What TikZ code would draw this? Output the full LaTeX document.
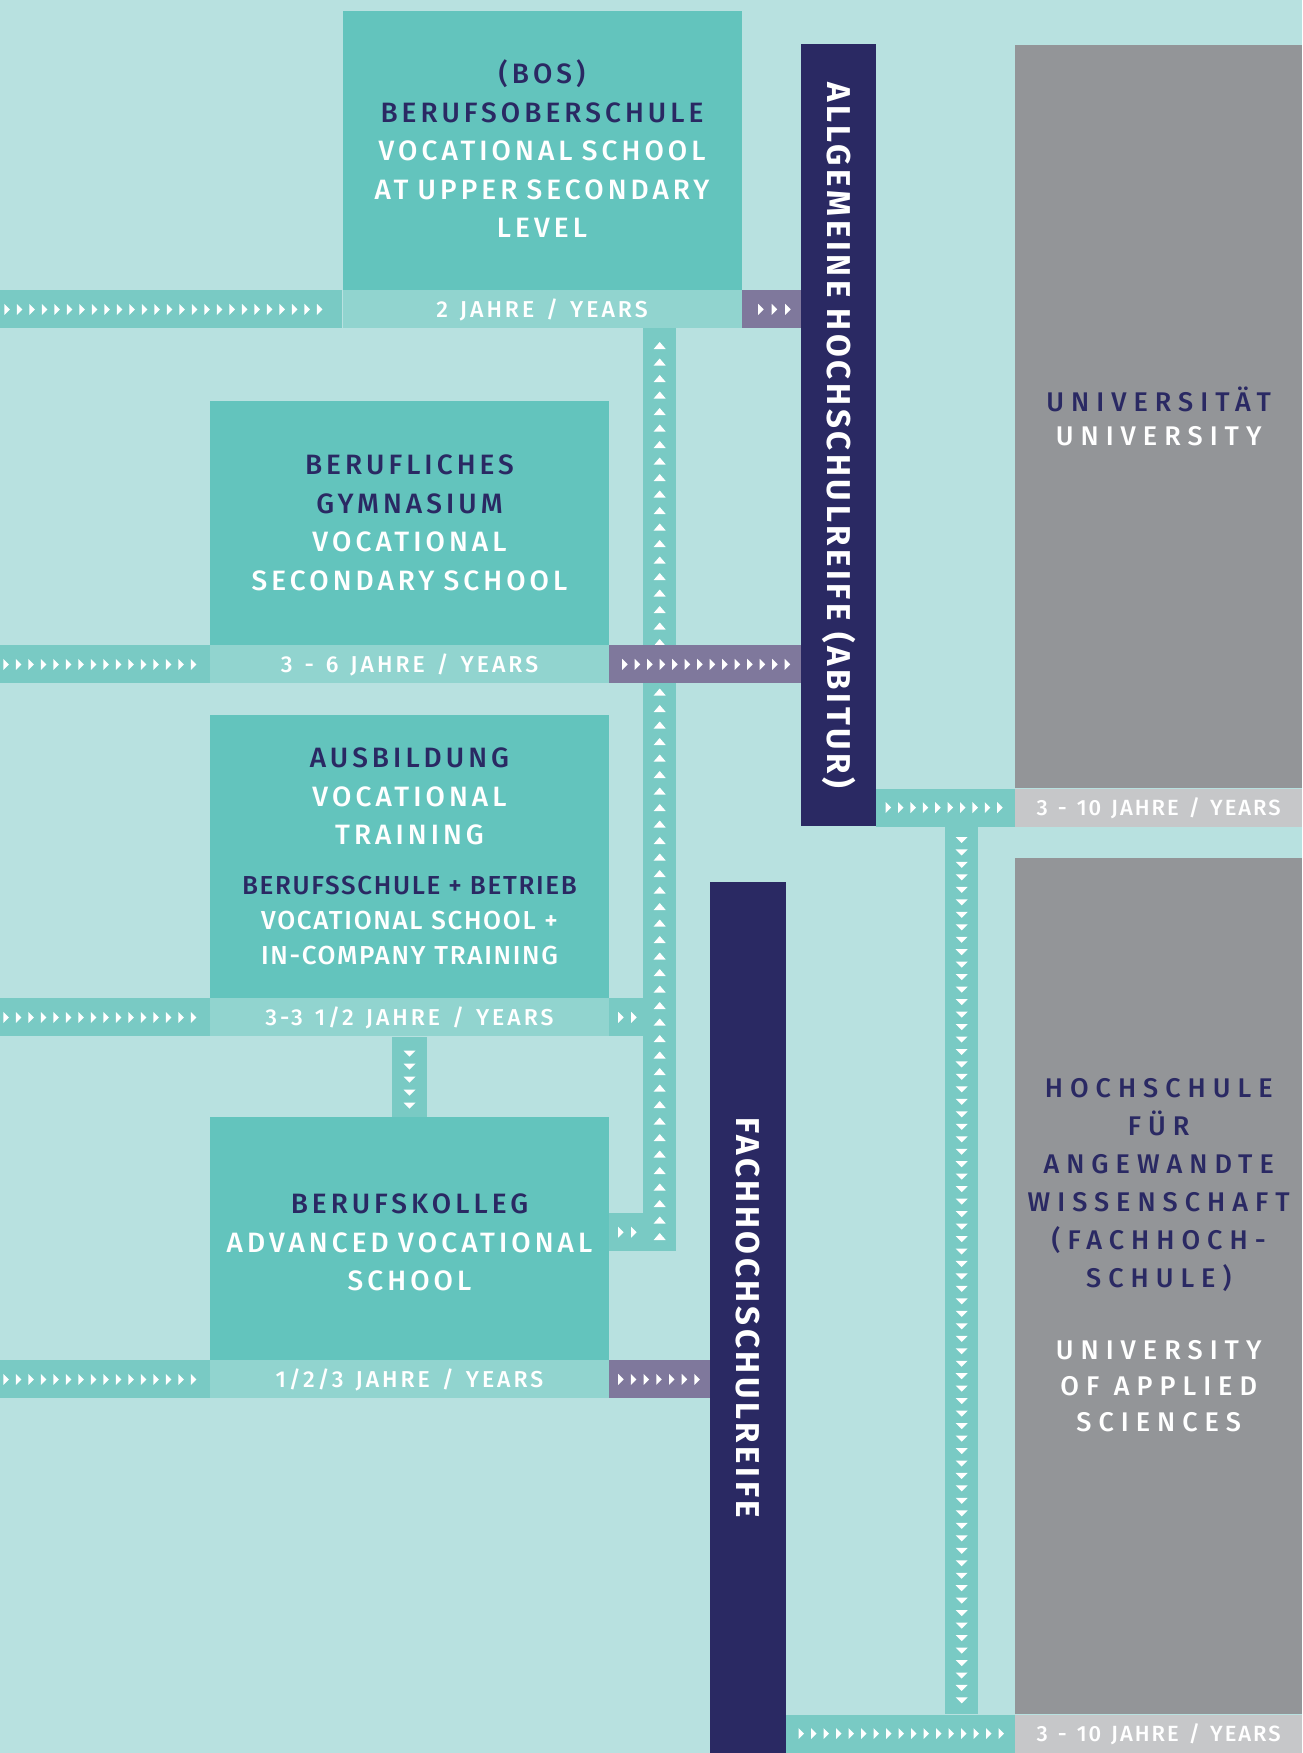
\documentclass[tikz,border=0pt]{standalone}
\usepackage{fontspec}
\setmainfont{Fira Sans}
\newfontfamily\spacedfont{Fira Sans Medium}[LetterSpace=14.5]
\newfontfamily\tightfont{Fira Sans Medium}[LetterSpace=6.5]
\newfontfamily\barfont{Fira Sans Medium}[LetterSpace=13]
\newfontfamily\greybarfont{Fira Sans Medium}[LetterSpace=9]
\newfontfamily\unifont{Fira Sans Medium}[LetterSpace=26]
\newfontfamily\wallfont{Fira Sans}[LetterSpace=11]
\usetikzlibrary{positioning}

\definecolor{bgteal}{HTML}{B8E1E0}
\definecolor{boxteal}{HTML}{63C4BD}
\definecolor{barteal}{HTML}{91D4CF}
\definecolor{stripteal}{HTML}{79CAC4}
\definecolor{stripviolet}{HTML}{7F789C}
\definecolor{navy}{HTML}{2A2963}
\definecolor{unigrey}{HTML}{939598}
\definecolor{bargrey}{HTML}{C6C7C9}

\newcommand{\dark}[1]{\textcolor{navy}{#1}}
\newcommand{\schoolsize}{\fontsize{28}{38.5}\selectfont\setlength{\spaceskip}{13pt plus 2pt}}
\newcommand{\smallsize}{\fontsize{26}{35}\selectfont\setlength{\spaceskip}{7pt plus 2pt}}
\newcommand{\barsize}{\fontsize{23}{26}\selectfont\setlength{\spaceskip}{12pt plus 1pt}}
\newcommand{\greybarsize}{\fontsize{22}{26}\selectfont\setlength{\spaceskip}{10pt plus 1pt}}
\newcommand{\unisize}{\fontsize{27}{34}\selectfont\setlength{\spaceskip}{13pt plus 2pt}}
\newcommand{\fhsize}{\fontsize{27}{38}\selectfont\setlength{\spaceskip}{13pt plus 2pt}}
\newcommand{\fhenglish}{\fontsize{27}{36}\selectfont\setlength{\spaceskip}{13pt plus 2pt}}

\begin{document}
\begin{tikzpicture}[x=1pt, y=-1pt,
school/.style={fill=boxteal, inner sep=0pt, minimum width=399pt, text width=396pt, align=center, text=white, font=\spacedfont\schoolsize},
years/.style={fill=barteal, inner sep=0pt, minimum width=399pt, minimum height=38pt, text height=16pt, text depth=0pt, text=white, font=\barfont\barsize},
lane/.style={fill=stripteal, inner sep=0pt, minimum height=38pt},
outlet/.style={fill=stripviolet, inner sep=0pt, minimum height=38pt},
wall/.style={fill=navy, inner sep=0pt},
walltext/.style={rotate=-90, inner sep=0pt, text height=23pt, text depth=0pt, text=white, font=\wallfont\bfseries\fontsize{33}{33}\selectfont},
uni/.style={fill=unigrey, inner sep=0pt, minimum width=287pt, text width=284pt, align=center, text=white, font=\unifont\unisize},
unibar/.style={fill=bargrey, inner sep=0pt, minimum width=287pt, minimum height=38pt, text height=15pt, text depth=0pt, text=white, font=\greybarfont\greybarsize},
tri right/.pic={\fill[white] (0,-5.5) -- (5.5,0) -- (0,5.5) -- cycle;},
tri up/.pic={\fill[white] (-6,3.5) -- (0,-3.5) -- (6,3.5) -- cycle;},
tri down/.pic={\fill[white] (-6,-3) -- (0,3) -- (6,-3) -- cycle;}]
\useasboundingbox (0,0) rectangle (1302,1753);
\fill[bgteal] (0,0) rectangle (1302,1753);

% lanes up and down
\node[lane, anchor=north west, minimum width=33pt, minimum height=923pt] (rise) at (643,328) {};
\foreach \i in {0,...,54} \path (rise.north) ++(0,17.5+16.5*\i) pic {tri up};
\node[lane, anchor=north west, minimum width=33pt, minimum height=888pt] (fall) at (945,826) {};
\foreach \i in {0,...,69} \path (fall.north) ++(0,14+12.47*\i) pic {tri down};

% BOS
\node[school, minimum height=279pt] (bos) at (542,150.5) {\dark{(BOS)}\\ \dark{BERUFSOBERSCHULE}\\ VOCATIONAL SCHOOL\\ AT UPPER SECONDARY\\ LEVEL\rule[-3.6pt]{0pt}{3.6pt}};
\node[years, below=0pt of bos] (bosyears) {2 JAHRE / YEARS};
\node[lane, left=0pt of bosyears, minimum width=342.5pt] (bosin) {};
\node[outlet, right=0pt of bosyears, minimum width=59.5pt] (bosout) {};
\foreach \i in {0,...,25} \path (bosin.west) ++(5+12.5*\i,0) pic {tri right};
\foreach \i in {0,...,2} \path (bosout.west) ++(16.5+13.5*\i,0) pic {tri right};

% Berufliches Gymnasium
\node[school, minimum height=244pt] (gym) at (409.5,523) {\dark{BERUFLICHES}\\ \dark{GYMNASIUM}\\ VOCATIONAL\\ SECONDARY SCHOOL};
\node[years, below=0pt of gym] (gymyears) {3 - 6 JAHRE / YEARS};
\node[lane, left=0pt of gymyears, minimum width=210pt] (gymin) {};
\node[outlet, right=0pt of gymyears, minimum width=192pt] (gymout) {};
\foreach \i in {0,...,15} \path (gymin.west) ++(4+12.5*\i,0) pic {tri right};
\foreach \i in {0,...,13} \path (gymout.west) ++(13+12.5*\i,0) pic {tri right};

% Ausbildung
\node[school, minimum height=283pt] (aus) at (409.5,856.5) {\dark{AUSBILDUNG}\\ VOCATIONAL\\ TRAINING\par\vspace{15pt}%
{\tightfont\smallsize\dark{BERUFSSCHULE + BETRIEB}\\ VOCATIONAL SCHOOL +\\ IN-COMPANY TRAINING\par}};
\node[years, below=0pt of aus] (ausyears) {3-3 1/2 JAHRE / YEARS};
\node[lane, left=0pt of ausyears, minimum width=210pt] (ausin) {};
\node[lane, right=0pt of ausyears, minimum width=34pt] (ausout) {};
\foreach \i in {0,...,15} \path (ausin.west) ++(4+12.5*\i,0) pic {tri right};
\foreach \i in {0,1} \path (ausout.west) ++(9+13*\i,0) pic {tri right};
\node[lane, below=0pt of ausyears, minimum width=35pt, minimum height=81pt] (aus2kol) {};
\foreach \i in {0,...,4} \path (aus2kol.north) ++(0,17+13*\i) pic {tri down};

% Berufskolleg
\node[school, minimum height=243pt] (kol) at (409.5,1238.5) {\rule{0pt}{28pt}\dark{BERUFSKOLLEG}\\ ADVANCED VOCATIONAL\\ SCHOOL};
\node[years, below=0pt of kol] (kolyears) {1/2/3 JAHRE / YEARS};
\node[lane, left=0pt of kolyears, minimum width=210pt] (kolin) {};
\node[outlet, right=0pt of kolyears, minimum width=101pt] (kolout) {};
\node[lane, anchor=south west, minimum width=34pt] (kolup) at (kol.east |- rise.south) {};
\foreach \i in {0,...,15} \path (kolin.west) ++(4+12.5*\i,0) pic {tri right};
\foreach \i in {0,...,6} \path (kolout.west) ++(9+12.7*\i,0) pic {tri right};
\foreach \i in {0,1} \path (kolup.west) ++(9+13*\i,0) pic {tri right};

% Hochschulreife
\node[wall, anchor=north west, minimum width=75pt, minimum height=782pt] (abitur) at (801,44) {};
\node[walltext] (abiturtext) at (abitur.center) {ALLGEMEINE HOCHSCHULREIFE (ABITUR)};
\node[wall, anchor=north west, minimum width=76pt, minimum height=871pt] (fhreife) at (710,882) {};
\node[walltext] (fhreifetext) at (fhreife.center) {FACHHOCHSCHULREIFE};

% Universitaet
\node[uni, anchor=north west, minimum height=743pt] (uni) at (1015,45) {\dark{UNIVERSITÄT}\\ UNIVERSITY};
\node[unibar, below=0pt of uni] (uniyears) {3 - 10 JAHRE / YEARS};
\node[lane, anchor=east, minimum width=139pt] (abi2uni) at (uniyears.west) {};
\foreach \i in {0,...,9} \path (abi2uni.west) ++(10+12.4*\i,0) pic {tri right};

% Fachhochschule
\node[uni, anchor=north west, minimum height=856pt] (fh) at (1015,858) {};
\node[unibar, below=0pt of fh] (fhyears) {3 - 10 JAHRE / YEARS};
\node[uni, fill=none, font=\unifont\fhsize] (fhtext) at ([yshift=31.5pt]fh.center) {\dark{HOCHSCHULE}\\ \dark{FÜR}\\ \dark{ANGEWANDTE}\\ \dark{WISSENSCHAFT}\\ \dark{(FACHHOCH-}\\ \dark{SCHULE)}\par\vspace{36pt}%
{\fhenglish UNIVERSITY\\ OF APPLIED\\ SCIENCES\par}};
\node[lane, anchor=east, minimum width=229pt] (fh2fh) at (fhyears.west) {};
\foreach \i in {0,...,16} \path (fh2fh.west) ++(13+12.5*\i,0) pic {tri right};
\end{tikzpicture}
\end{document}
